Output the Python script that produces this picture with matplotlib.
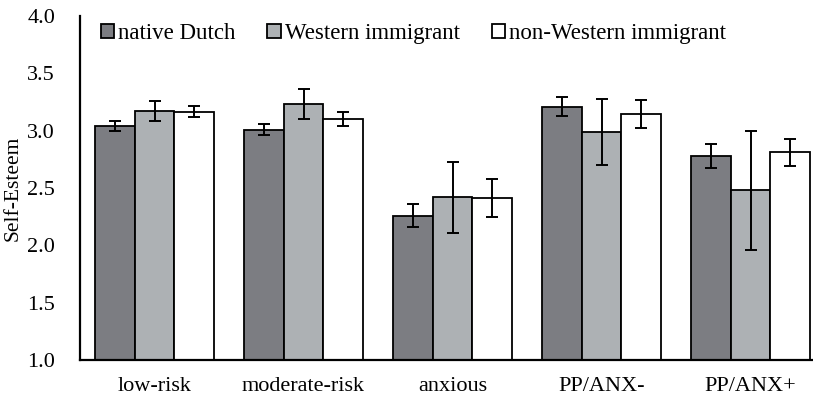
import numpy as np
import matplotlib
matplotlib.use('Agg')
from matplotlib import pyplot as plt

categories = ['low-risk', 'moderate-risk', 'anxious', 'PP/ANX-', 'PP/ANX+']
groups = ['native Dutch', 'Western immigrant', 'non-Western immigrant']
native = [3.04, 3.01, 2.26, 3.21, 2.78]
native_err = [0.04, 0.05, 0.10, 0.08, 0.105]
western = [3.17, 3.23, 2.42, 2.99, 2.48]
western_err = [0.09, 0.13, 0.31, 0.29, 0.52]
nonwestern = [3.165, 3.105, 2.41, 3.145, 2.81]
nonwestern_err = [0.05, 0.06, 0.165, 0.12, 0.115]

colors = ['#7c7d82', '#adb1b4', '#ffffff']

plt.rcParams['font.family'] = ['Liberation Serif', 'DejaVu Serif']

fig = plt.figure(figsize=(8.13, 4.0), dpi=100)
ax = fig.add_axes([80/813, 40/400, 745/813, 344/400])

x = np.arange(len(categories))
w = 0.267
for i, (vals, errs) in enumerate([(native, native_err), (western, western_err),
                                  (nonwestern, nonwestern_err)]):
    ax.bar(x + (i - 1)*w, vals, w, color=colors[i], edgecolor='black', linewidth=1.3,
           label=groups[i], zorder=2)
    ax.errorbar(x + (i - 1)*w, vals, yerr=errs, fmt='none', ecolor='black',
                elinewidth=1.4, capsize=4, capthick=1.4, zorder=3)

ax.set_xlim(-0.5, 4.5)
ax.set_ylim(1.0, 4.0)
ax.set_yticks(np.arange(1.0, 4.01, 0.5))
ax.set_yticklabels(['%.1f' % v for v in np.arange(1.0, 4.01, 0.5)], fontsize=16)
ax.set_xticks(x)
ax.set_xticklabels(categories, fontsize=16)
ax.tick_params(axis='x', length=0, pad=12)
ax.tick_params(axis='y', length=0, pad=18)
ax.set_ylabel('Self-Esteem', fontsize=15.5)
ax.yaxis.set_label_coords(-0.077, 0.5)
for s in ['top', 'right']:
    ax.spines[s].set_visible(False)
ax.spines['left'].set_linewidth(1.6)
ax.spines['bottom'].set_linewidth(1.6)

leg = ax.legend(loc='upper left', bbox_to_anchor=(0.0, 1.04), ncol=3, frameon=False,
                fontsize=16.5, handlelength=0.6, handleheight=0.6, handletextpad=0.15,
                columnspacing=1.4)

fig.savefig('out.png', dpi=100)
